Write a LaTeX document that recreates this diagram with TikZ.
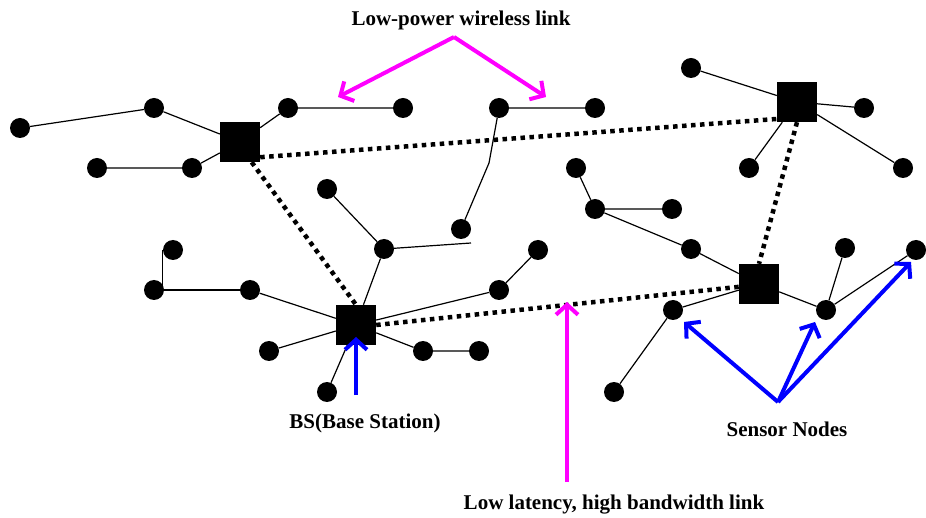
\documentclass[tikz,border=0pt]{standalone}
\usepackage{fontspec}
\setmainfont{Liberation Serif}
\usetikzlibrary{arrows.meta}
\definecolor{linkpink}{RGB}{255,0,255}
\definecolor{nodeblue}{RGB}{0,0,255}

\begin{document}
\begin{tikzpicture}[x=1pt,y=-1pt,
    sensor/.style={circle,fill=black,inner sep=0pt,minimum size=20pt},
    bstation/.style={rectangle,fill=black,inner sep=0pt,minimum size=40pt},
    link/.style={line width=1.2pt},
    fastlink/.style={line width=4.5pt,dash pattern=on 4.5pt off 4.5pt},
    callout/.style={line width=4pt,-{Straight Barb[length=10pt,width=22pt]}},
    caption/.style={font=\fontsize{21}{25}\selectfont\bfseries}]
    \useasboundingbox (0,0) rectangle (926,518);
    % base stations
    \node[bstation] (bsA) at (240,142) {};
    \node[bstation] (bsB) at (797,102) {};
    \node[bstation] (bsC) at (759,284) {};
    \node[bstation] (bsD) at (356,325) {};
    % sensor nodes
    \foreach \n/\x/\y in {a1/20/128,a2/154/108,a3/288/108,a4/403/108,a5/97/168,a6/192/168,
        c1/691/68,c2/864/108,c3/903/168,c4/749/168,
        d1/576/168,d2/595/209,d3/672/209,d4/691/249,d5/673/310,d6/614/392,d7/826/310,d8/845/248,d9/916/250,
        b1/499/108,b2/595/108,e1/461/229,e2/327/189,e3/384/249,
        f1/173/250,f2/154/290,f3/250/290,
        g1/269/351,g2/327/392,g3/423/351,g4/479/351,g5/499/290,g6/538/250}
        \node[sensor] (\n) at (\x,\y) {};
    \coordinate (bend) at (489,163);
    \coordinate (etail) at (471,243);
    % low-power links
    \draw[link] (a1) -- (a2) -- (bsA) -- (a3) -- (a4);
    \draw[link] (a5) -- (a6) -- (bsA);
    \draw[link] (c1) -- (bsB) -- (c2);
    \draw[link] (bsB) -- (c3);
    \draw[link] (bsB) -- (c4);
    \draw[link] (d1) -- (d2) -- (d3);
    \draw[link] (d2) -- (d4) -- (bsC);
    \draw[link] (d6) -- (d5) -- (bsC) -- (d7) -- (d9);
    \draw[link] (d7) -- (d8);
    \draw[link] (b2) -- (b1) -- (bend) -- (e1);
    \draw[link] (e2) -- (e3) -- (bsD);
    \draw[link] (e3) -- (etail);
    \draw[link] (f1.west) |- (f3);
    \draw[link] (f3) -- (bsD) -- (g1);
    \draw[link] (bsD) -- (g2);
    \draw[link] (bsD) -- (g3) -- (g4);
    \draw[link] (bsD) -- (g5) -- (g6);
    % backbone
    \draw[fastlink] (bsA.-37) -- (bsB.-140);
    \draw[fastlink] (bsA.-60) -- (bsD.north);
    \draw[fastlink] (bsD.east) -- (bsC.188);
    \draw[fastlink] (bsB.south) -- (bsC.north);
    % labels
    \node[caption] (lpw) at (461,20) {Low-power wireless link};
    \node[caption] (bslabel) at (365,423) {BS(Base Station)};
    \node[caption] (snlabel) at (787,429) {Sensor Nodes};
    \node[caption] (lllabel) at (614,505) {Low latency, high bandwidth link};
    \coordinate (lpwTop) at (454,37);
    \coordinate (lpwL) at (338,97);
    \coordinate (lpwR) at (546,97);
    \coordinate (llBot) at (567,482);
    \coordinate (llTop) at (567,302);
    \coordinate (snRoot) at (778,402);
    \coordinate (bsBot) at (356,395);
    \draw[callout,linkpink] (lpwTop) -- (lpwL);
    \draw[callout,linkpink] (lpwTop) -- (lpwR);
    \draw[callout,linkpink] (llBot) -- (llTop);
    \draw[callout,nodeblue] (snRoot) -- (684,322);
    \draw[callout,nodeblue] (snRoot) -- (815,322);
    \draw[callout,nodeblue] (snRoot) -- (911,262);
    \draw[callout,nodeblue] (bsBot) -- (bsD.center |- 0,337);
\end{tikzpicture}
\end{document}
